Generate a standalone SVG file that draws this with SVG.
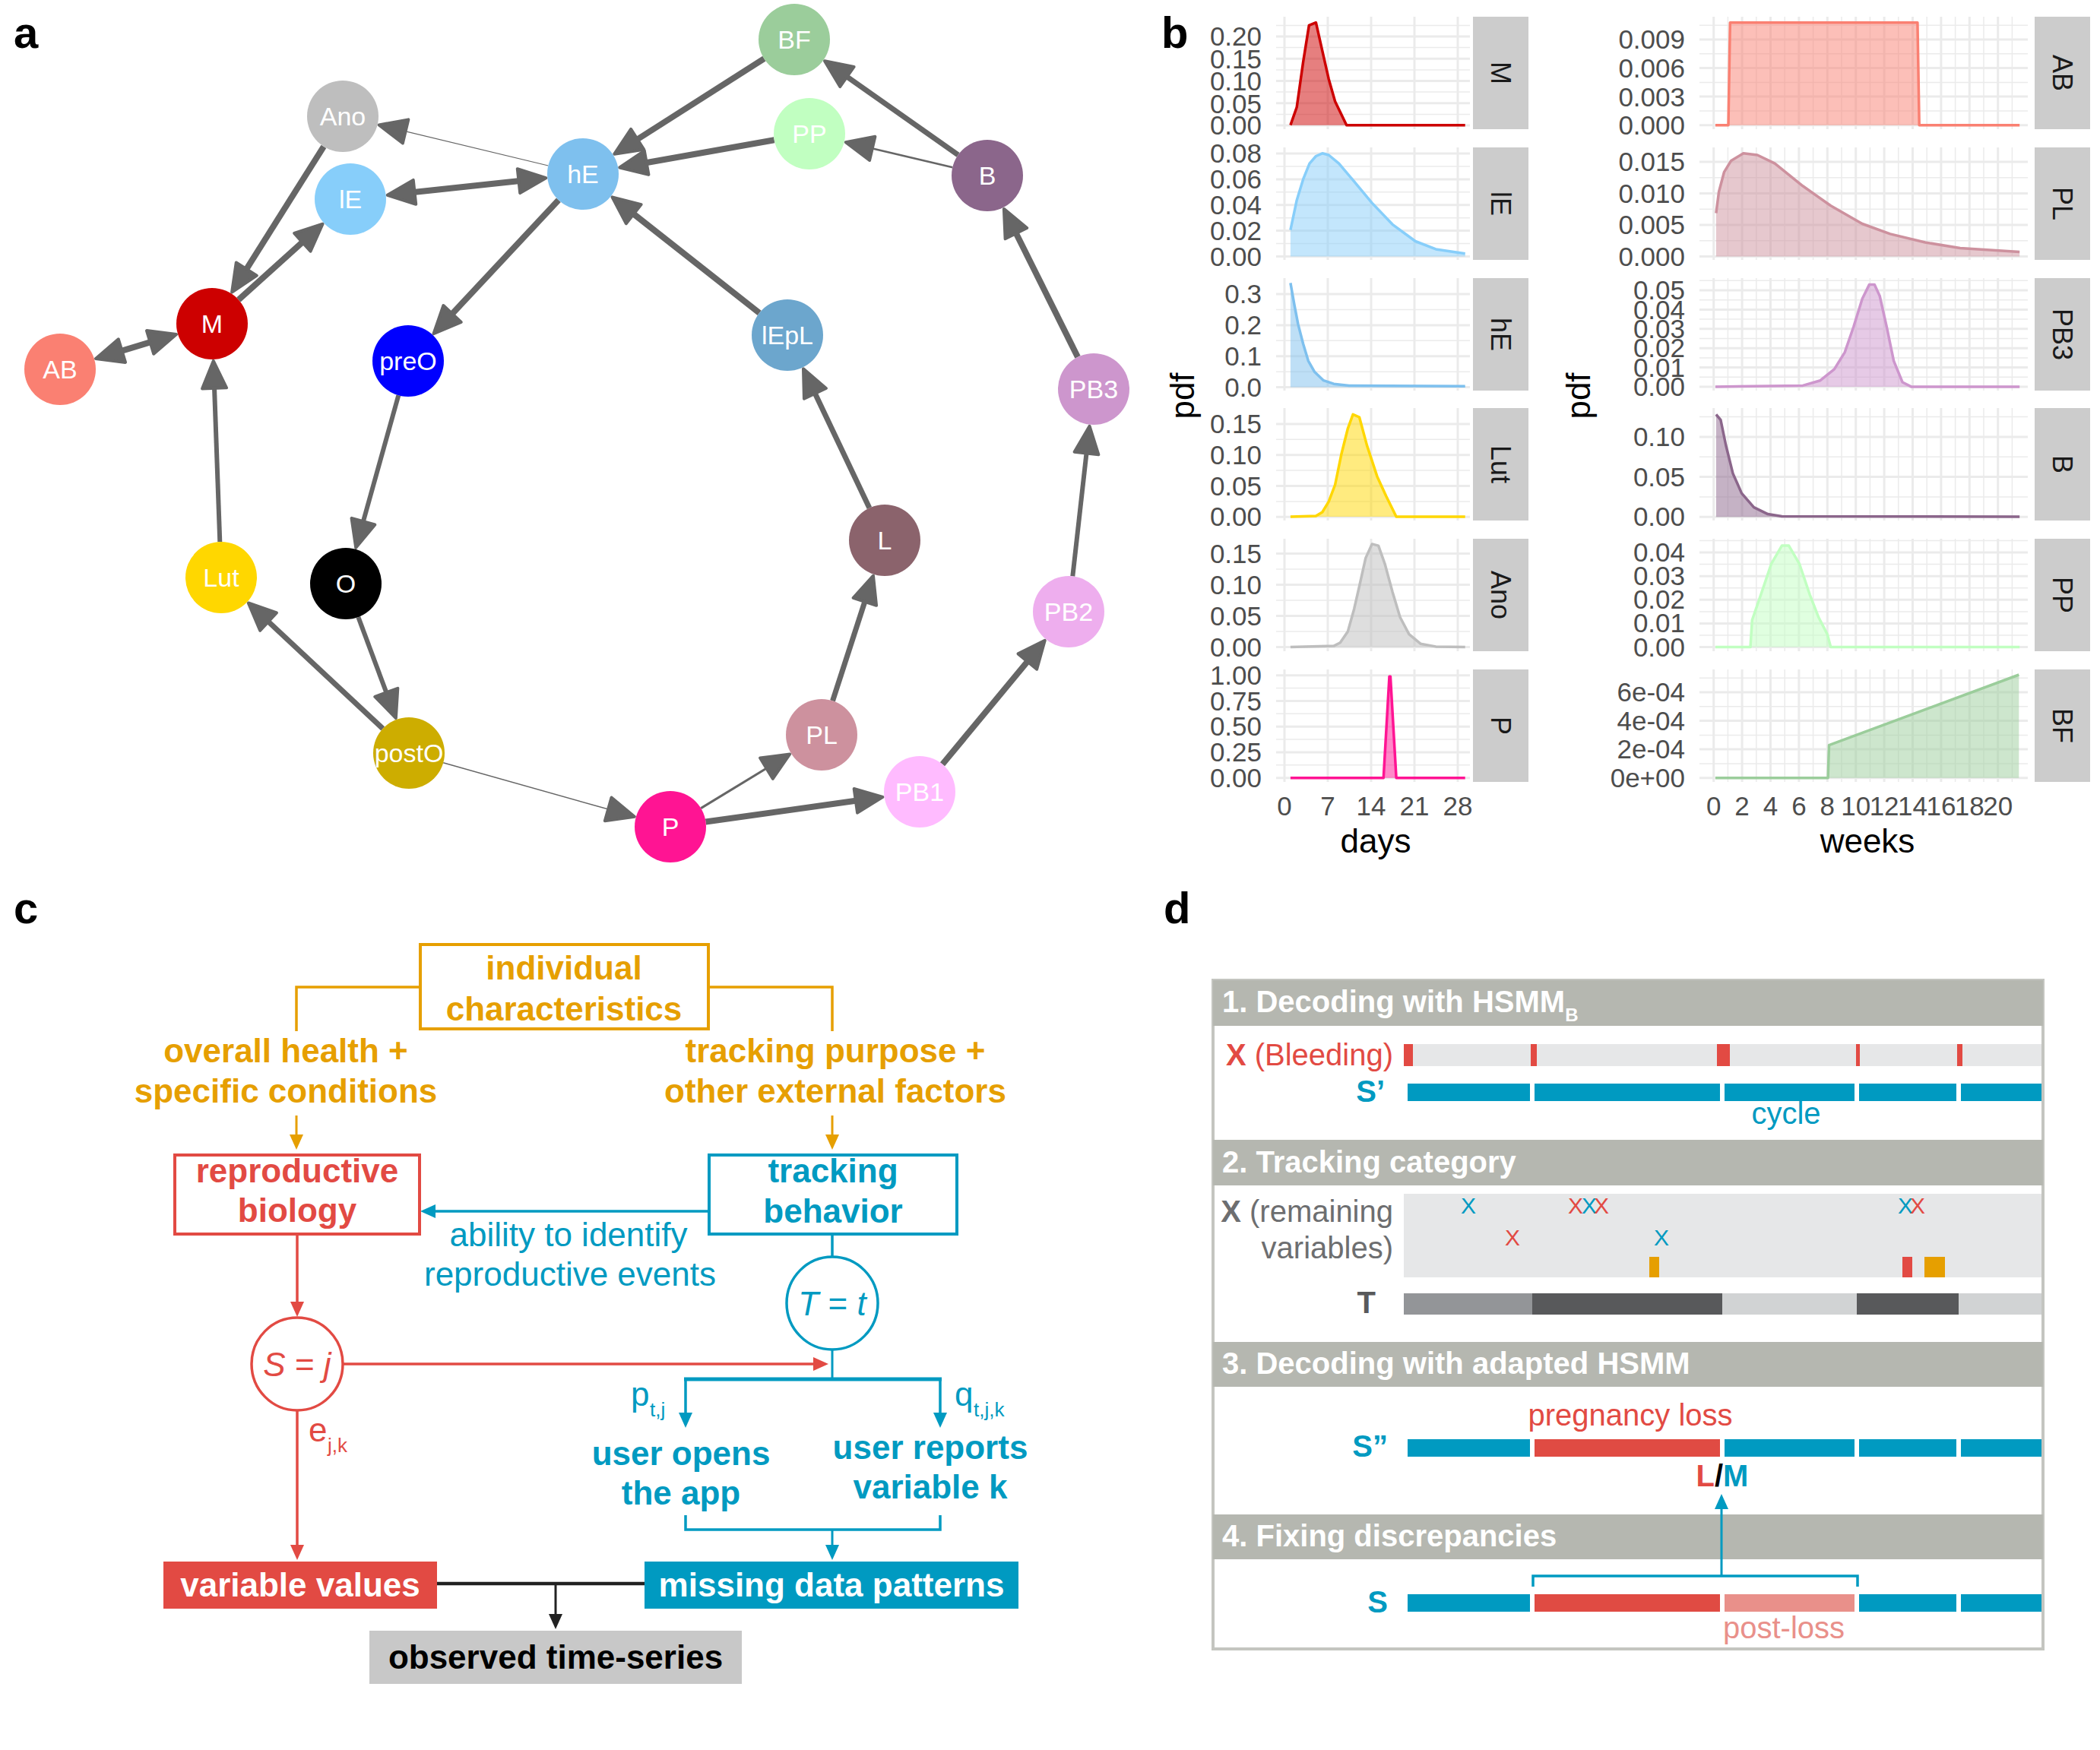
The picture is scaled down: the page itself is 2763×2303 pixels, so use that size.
<svg xmlns="http://www.w3.org/2000/svg" xmlns:xlink="http://www.w3.org/1999/xlink" width="2763" height="2303" viewBox="0 0 2763 2303">
<style>
text { font-family: "Liberation Sans", Arial, Helvetica, sans-serif; }
.pl { font-size: 58px; font-weight: bold; fill: #000; }
.nl { font-size: 34px; fill: #fff; text-anchor: middle; }
.ed { fill: none; stroke: #666; }
.gM { stroke: #EBEBEB; stroke-width: 3; }
.gm { stroke: #EBEBEB; stroke-width: 1.5; }
.tk { font-size: 35px; fill: #4D4D4D; text-anchor: end; }
.tx { font-size: 35px; fill: #4D4D4D; text-anchor: middle; }
.at { font-size: 44px; fill: #000; text-anchor: middle; }
.st { fill: #CCCCCC; }
.stt { font-size: 36px; fill: #1A1A1A; text-anchor: middle; }
.cv { fill: none; stroke-width: 3.5; stroke-linejoin: round; }
.cf { opacity: 0.5; }
.cb { font-size: 44px; font-weight: bold; text-anchor: middle; }
.cr { font-size: 44px; text-anchor: middle; }
.hd { fill: #B5B7B0; }
.ht { font-size: 40px; font-weight: bold; fill: #fff; }
.rl { font-size: 40px; text-anchor: end; }
.xm { font-size: 30px; text-anchor: middle; }
.blu { fill: #009AC1; }
</style>
<defs>
<marker id="ah" viewBox="0 0 40 36" refX="20" refY="18" markerWidth="40" markerHeight="36" markerUnits="userSpaceOnUse" orient="auto-start-reverse" overflow="visible">
<path d="M2,2 L38,18 L2,34 Z" fill="#666" stroke="#666" stroke-width="4" stroke-linejoin="round"/>
</marker>
<marker id="aO" viewBox="0 0 20 18" refX="12" refY="9" markerWidth="20" markerHeight="18" markerUnits="userSpaceOnUse" orient="auto"><path d="M0,0 L20,9 L0,18 Z" fill="#E69F00"/></marker>
<marker id="aR" viewBox="0 0 20 18" refX="12" refY="9" markerWidth="20" markerHeight="18" markerUnits="userSpaceOnUse" orient="auto"><path d="M0,0 L20,9 L0,18 Z" fill="#E24A43"/></marker>
<marker id="aB" viewBox="0 0 20 18" refX="12" refY="9" markerWidth="20" markerHeight="18" markerUnits="userSpaceOnUse" orient="auto"><path d="M0,0 L20,9 L0,18 Z" fill="#009AC1"/></marker>
<marker id="aK" viewBox="0 0 20 18" refX="12" refY="9" markerWidth="20" markerHeight="18" markerUnits="userSpaceOnUse" orient="auto"><path d="M0,0 L20,9 L0,18 Z" fill="#222"/></marker>
<g id="vgL">
<line class="gM" x1="1690" y1="0" x2="1690" y2="148"/><line class="gM" x1="1747" y1="0" x2="1747" y2="148"/><line class="gM" x1="1804" y1="0" x2="1804" y2="148"/><line class="gM" x1="1861" y1="0" x2="1861" y2="148"/><line class="gM" x1="1918" y1="0" x2="1918" y2="148"/>
</g>
<g id="vgR">
<line class="gM" x1="2254.7" y1="0" x2="2254.7" y2="148"/><line class="gm" x1="2273.4" y1="0" x2="2273.4" y2="148"/>
<line class="gM" x1="2292.1" y1="0" x2="2292.1" y2="148"/><line class="gm" x1="2310.8" y1="0" x2="2310.8" y2="148"/>
<line class="gM" x1="2329.5" y1="0" x2="2329.5" y2="148"/><line class="gm" x1="2348.2" y1="0" x2="2348.2" y2="148"/>
<line class="gM" x1="2366.9" y1="0" x2="2366.9" y2="148"/><line class="gm" x1="2385.6" y1="0" x2="2385.6" y2="148"/>
<line class="gM" x1="2404.3" y1="0" x2="2404.3" y2="148"/><line class="gm" x1="2423" y1="0" x2="2423" y2="148"/>
<line class="gM" x1="2441.7" y1="0" x2="2441.7" y2="148"/><line class="gm" x1="2460.4" y1="0" x2="2460.4" y2="148"/>
<line class="gM" x1="2479.1" y1="0" x2="2479.1" y2="148"/><line class="gm" x1="2497.8" y1="0" x2="2497.8" y2="148"/>
<line class="gM" x1="2516.5" y1="0" x2="2516.5" y2="148"/><line class="gm" x1="2535.2" y1="0" x2="2535.2" y2="148"/>
<line class="gM" x1="2553.9" y1="0" x2="2553.9" y2="148"/><line class="gm" x1="2572.6" y1="0" x2="2572.6" y2="148"/>
<line class="gM" x1="2591.3" y1="0" x2="2591.3" y2="148"/><line class="gm" x1="2610" y1="0" x2="2610" y2="148"/>
<line class="gM" x1="2628.7" y1="0" x2="2628.7" y2="148"/><line class="gm" x1="2647.4" y1="0" x2="2647.4" y2="148"/>
</g>
</defs>
<rect width="2763" height="2303" fill="#fff"/>

<!-- ===== Panel a ===== -->
<text class="pl" x="18" y="63">a</text>
<g id="connectors-a">
<path class="ed" stroke-width="8" d="M425.9,192.8 L314.7,369.3" marker-end="url(#ah)"/>
<path class="ed" stroke-width="8" d="M313.9,394.5 L411.2,306.8" marker-end="url(#ah)"/>
<path class="ed" stroke-width="8" d="M143.2,466.8 L214.8,445.2" marker-start="url(#ah)" marker-end="url(#ah)"/>
<path class="ed" stroke-width="8" d="M527.6,254.8 L700.4,236.2" marker-start="url(#ah)" marker-end="url(#ah)"/>
<path class="ed" stroke-width="1.2" stroke="#CFCFCF" d="M721.3,218 L516.1,168.7" marker-end="url(#ah)"/>
<path class="ed" stroke-width="8" d="M734.9,263.3 L582.8,426.1" marker-end="url(#ah)"/>
<path class="ed" stroke-width="8" d="M1005.4,77.2 L823.5,193" marker-end="url(#ah)"/>
<path class="ed" stroke-width="8" d="M1018.7,184.2 L832.9,217.3" marker-end="url(#ah)"/>
<path class="ed" stroke-width="7" d="M1260.6,203.9 L1099.7,90.6" marker-end="url(#ah)"/>
<path class="ed" stroke-width="2.5" d="M1253.3,220.2 L1130.2,191.3" marker-end="url(#ah)"/>
<path class="ed" stroke-width="8" d="M999.1,411.9 L819.6,270.5" marker-end="url(#ah)"/>
<path class="ed" stroke-width="8" d="M1418,469.9 L1328.9,291" marker-end="url(#ah)"/>
<path class="ed" stroke-width="7" d="M1143.9,668.5 L1064.7,501.6" marker-end="url(#ah)"/>
<path class="ed" stroke-width="7" d="M1095.5,922.3 L1143.4,774.7" marker-end="url(#ah)"/>
<path class="ed" stroke-width="3" d="M922.2,1063.6 L1023.8,1001.8" marker-end="url(#ah)"/>
<path class="ed" stroke-width="8" d="M928.5,1081.5 L1143.7,1051.3" marker-end="url(#ah)"/>
<path class="ed" stroke-width="8" d="M1240,1005.8 L1363.3,856.7" marker-end="url(#ah)"/>
<path class="ed" stroke-width="6" d="M1411.3,758.3 L1431.5,578.6" marker-end="url(#ah)"/>
<path class="ed" stroke-width="1.5" stroke="#777" d="M583.2,1003.8 L817.5,1069.8" marker-end="url(#ah)"/>
<path class="ed" stroke-width="7" d="M503.7,958.9 L339.9,805.8" marker-end="url(#ah)"/>
<path class="ed" stroke-width="6" d="M289.3,713 L281.4,492.9" marker-end="url(#ah)"/>
<path class="ed" stroke-width="6" d="M524.3,520.3 L473.1,703.5" marker-end="url(#ah)"/>
<path class="ed" stroke-width="6" d="M471.4,812.1 L514.6,928.2" marker-end="url(#ah)"/>
</g>
<g id="node-Ano"><circle cx="451" cy="153" r="47" fill="#BEBEBE"/><text class="nl" x="451" y="165">Ano</text></g>
<g id="node-IE"><circle cx="461" cy="262" r="47" fill="#87CEFA"/><text class="nl" x="461" y="274">lE</text></g>
<g id="node-hE"><circle cx="767" cy="229" r="47" fill="#7EC0EE"/><text class="nl" x="767" y="241">hE</text></g>
<g id="node-M"><circle cx="279" cy="426" r="47" fill="#CD0000"/><text class="nl" x="279" y="438">M</text></g>
<g id="node-AB"><circle cx="79" cy="486" r="47" fill="#FA8072"/><text class="nl" x="79" y="498">AB</text></g>
<g id="node-preO"><circle cx="537" cy="475" r="47" fill="#0000FF"/><text class="nl" x="537" y="487">preO</text></g>
<g id="node-BF"><circle cx="1045" cy="52" r="47" fill="#9BCD9B"/><text class="nl" x="1045" y="64">BF</text></g>
<g id="node-PP"><circle cx="1065" cy="176" r="47" fill="#C1FFC1"/><text class="nl" x="1065" y="188">PP</text></g>
<g id="node-B"><circle cx="1299" cy="231" r="47" fill="#8B668B"/><text class="nl" x="1299" y="243">B</text></g>
<g id="node-IEpL"><circle cx="1036" cy="441" r="47" fill="#6CA6CD"/><text class="nl" x="1036" y="453">lEpL</text></g>
<g id="node-PB3"><circle cx="1439" cy="512" r="47" fill="#CD96CD"/><text class="nl" x="1439" y="524">PB3</text></g>
<g id="node-Lut"><circle cx="291" cy="760" r="47" fill="#FFD700"/><text class="nl" x="291" y="772">Lut</text></g>
<g id="node-O"><circle cx="455" cy="768" r="47" fill="#000000"/><text class="nl" x="455" y="780">O</text></g>
<g id="node-postO"><circle cx="538" cy="991" r="47" fill="#CDAD00"/><text class="nl" x="538" y="1003">postO</text></g>
<g id="node-L"><circle cx="1164" cy="711" r="47" fill="#8B636C"/><text class="nl" x="1164" y="723">L</text></g>
<g id="node-PB2"><circle cx="1406" cy="805" r="47" fill="#EEAEEE"/><text class="nl" x="1406" y="817">PB2</text></g>
<g id="node-PL"><circle cx="1081" cy="967" r="47" fill="#CD919E"/><text class="nl" x="1081" y="979">PL</text></g>
<g id="node-PB1"><circle cx="1210" cy="1042" r="47" fill="#FFBBFF"/><text class="nl" x="1210" y="1054">PB1</text></g>
<g id="node-P"><circle cx="882" cy="1088" r="47" fill="#FF1493"/><text class="nl" x="882" y="1100">P</text></g>

<!-- ===== Panel b ===== -->
<text class="pl" x="1528" y="63">b</text>
<g id="panel-b-left">
<!-- grid -->
<use xlink:href="#vgL" href="#vgL" y="22"/><use xlink:href="#vgL" href="#vgL" y="194"/><use xlink:href="#vgL" href="#vgL" y="366"/>
<use xlink:href="#vgL" href="#vgL" y="537"/><use xlink:href="#vgL" href="#vgL" y="709"/><use xlink:href="#vgL" href="#vgL" y="881"/>
<g>
<line class="gM" x1="1679" x2="1934" y1="165" y2="165"/><line class="gM" x1="1679" x2="1934" y1="135.8" y2="135.8"/><line class="gM" x1="1679" x2="1934" y1="106.5" y2="106.5"/><line class="gM" x1="1679" x2="1934" y1="77.3" y2="77.3"/><line class="gM" x1="1679" x2="1934" y1="48" y2="48"/>
<line class="gm" x1="1679" x2="1934" y1="150.4" y2="150.4"/><line class="gm" x1="1679" x2="1934" y1="121.1" y2="121.1"/><line class="gm" x1="1679" x2="1934" y1="91.9" y2="91.9"/><line class="gm" x1="1679" x2="1934" y1="62.6" y2="62.6"/><line class="gm" x1="1679" x2="1934" y1="33.4" y2="33.4"/>
<line class="gM" x1="1679" x2="1934" y1="337.5" y2="337.5"/><line class="gM" x1="1679" x2="1934" y1="303.6" y2="303.6"/><line class="gM" x1="1679" x2="1934" y1="269.8" y2="269.8"/><line class="gM" x1="1679" x2="1934" y1="235.9" y2="235.9"/><line class="gM" x1="1679" x2="1934" y1="202" y2="202"/>
<line class="gm" x1="1679" x2="1934" y1="320.6" y2="320.6"/><line class="gm" x1="1679" x2="1934" y1="286.7" y2="286.7"/><line class="gm" x1="1679" x2="1934" y1="252.8" y2="252.8"/><line class="gm" x1="1679" x2="1934" y1="219" y2="219"/>
<line class="gM" x1="1679" x2="1934" y1="509.6" y2="509.6"/><line class="gM" x1="1679" x2="1934" y1="468.7" y2="468.7"/><line class="gM" x1="1679" x2="1934" y1="427.9" y2="427.9"/><line class="gM" x1="1679" x2="1934" y1="387" y2="387"/>
<line class="gm" x1="1679" x2="1934" y1="489.2" y2="489.2"/><line class="gm" x1="1679" x2="1934" y1="448.3" y2="448.3"/><line class="gm" x1="1679" x2="1934" y1="407.4" y2="407.4"/>
<line class="gM" x1="1679" x2="1934" y1="680.3" y2="680.3"/><line class="gM" x1="1679" x2="1934" y1="639.5" y2="639.5"/><line class="gM" x1="1679" x2="1934" y1="598.7" y2="598.7"/><line class="gM" x1="1679" x2="1934" y1="557.9" y2="557.9"/>
<line class="gm" x1="1679" x2="1934" y1="659.9" y2="659.9"/><line class="gm" x1="1679" x2="1934" y1="619.1" y2="619.1"/><line class="gm" x1="1679" x2="1934" y1="578.3" y2="578.3"/>
<line class="gM" x1="1679" x2="1934" y1="851.6" y2="851.6"/><line class="gM" x1="1679" x2="1934" y1="810.6" y2="810.6"/><line class="gM" x1="1679" x2="1934" y1="769.5" y2="769.5"/><line class="gM" x1="1679" x2="1934" y1="728.5" y2="728.5"/>
<line class="gm" x1="1679" x2="1934" y1="831.1" y2="831.1"/><line class="gm" x1="1679" x2="1934" y1="790" y2="790"/><line class="gm" x1="1679" x2="1934" y1="749" y2="749"/>
<line class="gM" x1="1679" x2="1934" y1="1023.7" y2="1023.7"/><line class="gM" x1="1679" x2="1934" y1="990" y2="990"/><line class="gM" x1="1679" x2="1934" y1="956.2" y2="956.2"/><line class="gM" x1="1679" x2="1934" y1="922.5" y2="922.5"/><line class="gM" x1="1679" x2="1934" y1="888.7" y2="888.7"/>
<line class="gm" x1="1679" x2="1934" y1="1006.8" y2="1006.8"/><line class="gm" x1="1679" x2="1934" y1="973.1" y2="973.1"/><line class="gm" x1="1679" x2="1934" y1="939.3" y2="939.3"/><line class="gm" x1="1679" x2="1934" y1="905.6" y2="905.6"/>
</g>
<!-- tick labels -->
<text class="tk" x="1660" y="60">0.20</text><text class="tk" x="1660" y="90">0.15</text><text class="tk" x="1660" y="119">0.10</text><text class="tk" x="1660" y="149">0.05</text><text class="tk" x="1660" y="177">0.00</text>
<text class="tk" x="1660" y="214">0.08</text><text class="tk" x="1660" y="248">0.06</text><text class="tk" x="1660" y="282">0.04</text><text class="tk" x="1660" y="316">0.02</text><text class="tk" x="1660" y="350">0.00</text>
<text class="tk" x="1660" y="399">0.3</text><text class="tk" x="1660" y="440">0.2</text><text class="tk" x="1660" y="481">0.1</text><text class="tk" x="1660" y="522">0.0</text>
<text class="tk" x="1660" y="570">0.15</text><text class="tk" x="1660" y="611">0.10</text><text class="tk" x="1660" y="652">0.05</text><text class="tk" x="1660" y="692">0.00</text>
<text class="tk" x="1660" y="741">0.15</text><text class="tk" x="1660" y="782">0.10</text><text class="tk" x="1660" y="823">0.05</text><text class="tk" x="1660" y="864">0.00</text>
<text class="tk" x="1660" y="901">1.00</text><text class="tk" x="1660" y="935">0.75</text><text class="tk" x="1660" y="968">0.50</text><text class="tk" x="1660" y="1002">0.25</text><text class="tk" x="1660" y="1036">0.00</text>
<!-- curves -->
<path class="cf" fill="#CD0000" d="M1697.9,164.7 L1706.2,141 L1714.6,81.6 L1722.3,33.4 L1731.4,29.7 L1739.8,66.8 L1748.2,103.9 L1756.6,133.5 L1771.7,164.7 Z"/>
<path class="cv" stroke="#CD0000" d="M1697.9,164.7 L1706.2,141 L1714.6,81.6 L1722.3,33.4 L1731.4,29.7 L1739.8,66.8 L1748.2,103.9 L1756.6,133.5 L1771.7,164.7 L1927.7,164.7"/>
<path class="cf" fill="#87CEFA" d="M1697.9,302.7 L1706.2,263.4 L1714.6,235.9 L1723,215.1 L1731.4,205.5 L1739.8,201.8 L1748.2,204 L1761.6,215.1 L1781.7,238.9 L1805.2,267.1 L1832.1,295.3 L1862.3,317.5 L1889.1,327.9 L1927.7,333.8 L1927.7,337.5 L1697.9,337.5 Z"/>
<path class="cv" stroke="#87CEFA" d="M1697.9,302.7 L1706.2,263.4 L1714.6,235.9 L1723,215.1 L1731.4,205.5 L1739.8,201.8 L1748.2,204 L1761.6,215.1 L1781.7,238.9 L1805.2,267.1 L1832.1,295.3 L1862.3,317.5 L1889.1,327.9 L1927.7,333.8"/>
<path class="cf" fill="#7EC0EE" d="M1697.9,372.4 L1702.9,400.6 L1707.9,426.6 L1714.6,452.5 L1721.3,474.8 L1729.7,489.6 L1741.4,500.7 L1754.9,505.2 L1775,507.4 L1927.7,508.2 L1927.7,509.6 L1697.9,509.6 Z"/>
<path class="cv" stroke="#7EC0EE" d="M1697.9,372.4 L1702.9,400.6 L1707.9,426.6 L1714.6,452.5 L1721.3,474.8 L1729.7,489.6 L1741.4,500.7 L1754.9,505.2 L1775,507.4 L1927.7,508.2"/>
<path class="cf" fill="#FFD700" d="M1731.4,680 L1739.8,674 L1748.2,660.2 L1756.6,638 L1765,597.2 L1773.4,563.8 L1780.1,545.3 L1788.5,549 L1798.5,586.1 L1811.9,626.9 L1823.7,652.8 L1837.1,680 Z"/>
<path class="cv" stroke="#FFD700" d="M1697.9,680 L1731.4,679 L1739.8,674 L1748.2,660.2 L1756.6,638 L1765,597.2 L1773.4,563.8 L1780.1,545.3 L1788.5,549 L1798.5,586.1 L1811.9,626.9 L1823.7,652.8 L1837.1,680 L1927.7,680"/>
<path class="cf" fill="#BEBEBE" d="M1697.9,851.6 L1754.9,850.1 L1763.3,845.7 L1773.4,830.9 L1781.7,801.2 L1788.5,771.5 L1796.8,734.4 L1805.2,715.9 L1813.6,718.1 L1822,741.8 L1832.1,778.9 L1842.1,812.3 L1853.9,834.6 L1869,847.2 L1889.1,850.9 L1927.7,851.6 Z"/>
<path class="cv" stroke="#BEBEBE" d="M1697.9,851.6 L1754.9,850.1 L1763.3,845.7 L1773.4,830.9 L1781.7,801.2 L1788.5,771.5 L1796.8,734.4 L1805.2,715.9 L1813.6,718.1 L1822,741.8 L1832.1,778.9 L1842.1,812.3 L1853.9,834.6 L1869,847.2 L1889.1,850.9 L1927.7,851.6"/>
<path class="cf" fill="#FF1493" d="M1820.3,1023.7 L1828,890.2 L1829.4,890.2 L1837.1,1023.7 Z"/>
<path class="cv" stroke="#FF1493" d="M1697.9,1023.7 L1820.3,1023.7 L1828,890.2 L1829.4,890.2 L1837.1,1023.7 L1927.7,1023.7"/>
<!-- strips -->
<rect class="st" x="1938" y="22" width="73" height="148"/><text class="stt" transform="rotate(90 1975 96)" x="1975" y="96" dy="0.35em">M</text>
<rect class="st" x="1938" y="194" width="73" height="148"/><text class="stt" transform="rotate(90 1975 268)" x="1975" y="268" dy="0.35em">lE</text>
<rect class="st" x="1938" y="366" width="73" height="148"/><text class="stt" transform="rotate(90 1975 440)" x="1975" y="440" dy="0.35em">hE</text>
<rect class="st" x="1938" y="537" width="73" height="148"/><text class="stt" transform="rotate(90 1975 611)" x="1975" y="611" dy="0.35em">Lut</text>
<rect class="st" x="1938" y="709" width="73" height="148"/><text class="stt" transform="rotate(90 1975 783)" x="1975" y="783" dy="0.35em">Ano</text>
<rect class="st" x="1938" y="881" width="73" height="148"/><text class="stt" transform="rotate(90 1975 955)" x="1975" y="955" dy="0.35em">P</text>
<!-- axes -->
<text class="tx" x="1690" y="1073">0</text><text class="tx" x="1747" y="1073">7</text><text class="tx" x="1804" y="1073">14</text><text class="tx" x="1861" y="1073">21</text><text class="tx" x="1918" y="1073">28</text>
<text class="at" x="1810" y="1122">days</text>
<text class="at" transform="rotate(-90 1556 521)" x="1556" y="521" dy="0.35em">pdf</text>
</g>

<g id="panel-b-right">
<use xlink:href="#vgR" href="#vgR" y="22"/><use xlink:href="#vgR" href="#vgR" y="194"/><use xlink:href="#vgR" href="#vgR" y="366"/>
<use xlink:href="#vgR" href="#vgR" y="537"/><use xlink:href="#vgR" href="#vgR" y="709"/><use xlink:href="#vgR" href="#vgR" y="881"/>
<g>
<line class="gM" x1="2236" x2="2668" y1="164.7" y2="164.7"/><line class="gM" x1="2236" x2="2668" y1="127.1" y2="127.1"/><line class="gM" x1="2236" x2="2668" y1="89.6" y2="89.6"/><line class="gM" x1="2236" x2="2668" y1="52" y2="52"/>
<line class="gm" x1="2236" x2="2668" y1="145.9" y2="145.9"/><line class="gm" x1="2236" x2="2668" y1="108.4" y2="108.4"/><line class="gm" x1="2236" x2="2668" y1="70.8" y2="70.8"/><line class="gm" x1="2236" x2="2668" y1="33.2" y2="33.2"/>
<line class="gM" x1="2236" x2="2668" y1="337.5" y2="337.5"/><line class="gM" x1="2236" x2="2668" y1="296" y2="296"/><line class="gM" x1="2236" x2="2668" y1="254.4" y2="254.4"/><line class="gM" x1="2236" x2="2668" y1="212.9" y2="212.9"/>
<line class="gm" x1="2236" x2="2668" y1="316.7" y2="316.7"/><line class="gm" x1="2236" x2="2668" y1="275.2" y2="275.2"/><line class="gm" x1="2236" x2="2668" y1="233.7" y2="233.7"/>
<line class="gM" x1="2236" x2="2668" y1="509" y2="509"/><line class="gM" x1="2236" x2="2668" y1="483.6" y2="483.6"/><line class="gM" x1="2236" x2="2668" y1="458.2" y2="458.2"/><line class="gM" x1="2236" x2="2668" y1="432.8" y2="432.8"/><line class="gM" x1="2236" x2="2668" y1="407.4" y2="407.4"/><line class="gM" x1="2236" x2="2668" y1="382" y2="382"/>
<line class="gm" x1="2236" x2="2668" y1="496.3" y2="496.3"/><line class="gm" x1="2236" x2="2668" y1="470.9" y2="470.9"/><line class="gm" x1="2236" x2="2668" y1="445.5" y2="445.5"/><line class="gm" x1="2236" x2="2668" y1="420.1" y2="420.1"/><line class="gm" x1="2236" x2="2668" y1="394.7" y2="394.7"/><line class="gm" x1="2236" x2="2668" y1="369.3" y2="369.3"/>
<line class="gM" x1="2236" x2="2668" y1="680.3" y2="680.3"/><line class="gM" x1="2236" x2="2668" y1="627.6" y2="627.6"/><line class="gM" x1="2236" x2="2668" y1="574.9" y2="574.9"/>
<line class="gm" x1="2236" x2="2668" y1="654" y2="654"/><line class="gm" x1="2236" x2="2668" y1="601.3" y2="601.3"/><line class="gm" x1="2236" x2="2668" y1="548.6" y2="548.6"/>
<line class="gM" x1="2236" x2="2668" y1="851.6" y2="851.6"/><line class="gM" x1="2236" x2="2668" y1="820.5" y2="820.5"/><line class="gM" x1="2236" x2="2668" y1="789.3" y2="789.3"/><line class="gM" x1="2236" x2="2668" y1="758.2" y2="758.2"/><line class="gM" x1="2236" x2="2668" y1="727" y2="727"/>
<line class="gm" x1="2236" x2="2668" y1="836" y2="836"/><line class="gm" x1="2236" x2="2668" y1="804.9" y2="804.9"/><line class="gm" x1="2236" x2="2668" y1="773.7" y2="773.7"/><line class="gm" x1="2236" x2="2668" y1="742.6" y2="742.6"/><line class="gm" x1="2236" x2="2668" y1="711.4" y2="711.4"/>
<line class="gM" x1="2236" x2="2668" y1="1023.7" y2="1023.7"/><line class="gM" x1="2236" x2="2668" y1="986.1" y2="986.1"/><line class="gM" x1="2236" x2="2668" y1="948.6" y2="948.6"/><line class="gM" x1="2236" x2="2668" y1="911" y2="911"/>
<line class="gm" x1="2236" x2="2668" y1="1004.9" y2="1004.9"/><line class="gm" x1="2236" x2="2668" y1="967.4" y2="967.4"/><line class="gm" x1="2236" x2="2668" y1="929.8" y2="929.8"/><line class="gm" x1="2236" x2="2668" y1="892.2" y2="892.2"/>
</g>
<text class="tk" x="2217" y="64">0.009</text><text class="tk" x="2217" y="102">0.006</text><text class="tk" x="2217" y="140">0.003</text><text class="tk" x="2217" y="177">0.000</text>
<text class="tk" x="2217" y="225">0.015</text><text class="tk" x="2217" y="267">0.010</text><text class="tk" x="2217" y="308">0.005</text><text class="tk" x="2217" y="350">0.000</text>
<text class="tk" x="2217" y="394">0.05</text><text class="tk" x="2217" y="420">0.04</text><text class="tk" x="2217" y="445">0.03</text><text class="tk" x="2217" y="470">0.02</text><text class="tk" x="2217" y="496">0.01</text><text class="tk" x="2217" y="521">0.00</text>
<text class="tk" x="2217" y="587">0.10</text><text class="tk" x="2217" y="640">0.05</text><text class="tk" x="2217" y="692">0.00</text>
<text class="tk" x="2217" y="739">0.04</text><text class="tk" x="2217" y="770">0.03</text><text class="tk" x="2217" y="801">0.02</text><text class="tk" x="2217" y="832">0.01</text><text class="tk" x="2217" y="864">0.00</text>
<text class="tk" x="2217" y="923">6e-04</text><text class="tk" x="2217" y="961">4e-04</text><text class="tk" x="2217" y="998">2e-04</text><text class="tk" x="2217" y="1036">0e+00</text>
<path class="cf" fill="#FA8072" d="M2274,164.7 L2276.3,29.7 L2522.9,29.7 L2525.2,164.7 Z"/>
<path class="cv" stroke="#FA8072" d="M2257,164.7 L2274,164.7 L2276.3,29.7 L2522.9,29.7 L2525.2,164.7 L2657.2,164.7"/>
<path class="cf" fill="#CD919E" d="M2257.9,280.4 L2261.6,252.2 L2268.5,226.3 L2277.7,211.4 L2293.8,201.8 L2312.2,204 L2335.2,215.1 L2372,244.8 L2408.8,270.8 L2450.2,294.5 L2487,307.9 L2533,319 L2579,326.4 L2657.2,331.6 L2657.2,337.5 L2257.9,337.5 Z"/>
<path class="cv" stroke="#CD919E" d="M2257.9,280.4 L2261.6,252.2 L2268.5,226.3 L2277.7,211.4 L2293.8,201.8 L2312.2,204 L2335.2,215.1 L2372,244.8 L2408.8,270.8 L2450.2,294.5 L2487,307.9 L2533,319 L2579,326.4 L2657.2,331.6"/>
<path class="cf" fill="#CD96CD" d="M2257,508.9 L2372,507.4 L2395,500.7 L2413.4,485.9 L2427.2,463.6 L2438.7,430.3 L2450.2,393.2 L2459.4,374.6 L2466.3,374.6 L2473.2,389.5 L2482.4,430.3 L2491.6,474.8 L2503.1,503 L2514.6,508.9 Z"/>
<path class="cv" stroke="#CD96CD" d="M2257,508.9 L2372,507.4 L2395,500.7 L2413.4,485.9 L2427.2,463.6 L2438.7,430.3 L2450.2,393.2 L2459.4,374.6 L2466.3,374.6 L2473.2,389.5 L2482.4,430.3 L2491.6,474.8 L2503.1,503 L2514.6,508.9 L2657.2,508.9"/>
<path class="cf" fill="#8B668B" d="M2257.9,545.3 L2263.9,552.7 L2270.8,586 L2280,623.1 L2291.5,649.1 L2307.6,667.7 L2326,676.6 L2344.4,679 L2344.4,680.3 L2257.9,680.3 Z"/>
<path class="cv" stroke="#8B668B" d="M2257.9,545.3 L2263.9,552.7 L2270.8,586 L2280,623.1 L2291.5,649.1 L2307.6,667.7 L2326,676.6 L2344.4,679.5 L2657.2,680"/>
<path class="cf" fill="#C1FFC1" d="M2303,851.6 L2305.3,816 L2316.8,782.6 L2330.6,741.8 L2344.4,718.1 L2353.6,718.1 L2367.4,741.8 L2381.2,782.6 L2392.7,812.3 L2404.2,834.6 L2408.8,851.6 Z"/>
<path class="cv" stroke="#C1FFC1" d="M2257,851.6 L2303,851.6 L2305.3,816 L2316.8,782.6 L2330.6,741.8 L2344.4,718.1 L2353.6,718.1 L2367.4,741.8 L2381.2,782.6 L2392.7,812.3 L2404.2,834.6 L2408.8,851.6 L2657.2,851.6"/>
<path class="cf" fill="#9BCD9B" d="M2405.1,1023.7 L2406.5,980.7 L2656.3,888 L2656.3,1023.7 Z"/>
<path class="cv" stroke="#9BCD9B" d="M2257,1023.7 L2405.1,1023.7 L2406.5,980.7 L2656.3,888"/>
<rect class="st" x="2677" y="22" width="73" height="148"/><text class="stt" transform="rotate(90 2714 96)" x="2714" y="96" dy="0.35em">AB</text>
<rect class="st" x="2677" y="194" width="73" height="148"/><text class="stt" transform="rotate(90 2714 268)" x="2714" y="268" dy="0.35em">PL</text>
<rect class="st" x="2677" y="366" width="73" height="148"/><text class="stt" transform="rotate(90 2714 440)" x="2714" y="440" dy="0.35em">PB3</text>
<rect class="st" x="2677" y="537" width="73" height="148"/><text class="stt" transform="rotate(90 2714 611)" x="2714" y="611" dy="0.35em">B</text>
<rect class="st" x="2677" y="709" width="73" height="148"/><text class="stt" transform="rotate(90 2714 783)" x="2714" y="783" dy="0.35em">PP</text>
<rect class="st" x="2677" y="881" width="73" height="148"/><text class="stt" transform="rotate(90 2714 955)" x="2714" y="955" dy="0.35em">BF</text>
<text class="tx" x="2254.7" y="1073">0</text><text class="tx" x="2292.1" y="1073">2</text><text class="tx" x="2329.5" y="1073">4</text><text class="tx" x="2366.9" y="1073">6</text><text class="tx" x="2404.3" y="1073">8</text><text class="tx" x="2441.7" y="1073">10</text><text class="tx" x="2479.1" y="1073">12</text><text class="tx" x="2516.5" y="1073">14</text><text class="tx" x="2553.9" y="1073">16</text><text class="tx" x="2591.3" y="1073">18</text><text class="tx" x="2628.7" y="1073">20</text>
<text class="at" x="2457" y="1122">weeks</text>
<text class="at" transform="rotate(-90 2077 521)" x="2077" y="521" dy="0.35em">pdf</text>
</g>

<!-- ===== Panel c ===== -->
<text class="pl" x="18" y="1215">c</text>
<g id="connectors-c" fill="none">
<path d="M553,1299 H390 V1357" stroke="#E69F00" stroke-width="3.5"/>
<path d="M932,1299 H1095 V1357" stroke="#E69F00" stroke-width="3.5"/>
<path d="M390,1468 V1505" stroke="#E69F00" stroke-width="3" marker-end="url(#aO)"/>
<path d="M1095,1468 V1505" stroke="#E69F00" stroke-width="3" marker-end="url(#aO)"/>
<path d="M933,1594 H561" stroke="#009AC1" stroke-width="3.5" marker-end="url(#aB)"/>
<path d="M391,1624 V1725" stroke="#E24A43" stroke-width="3.5" marker-end="url(#aR)"/>
<path d="M1095,1624 V1654" stroke="#009AC1" stroke-width="3.5"/>
<path d="M451,1795 H1082" stroke="#E24A43" stroke-width="3.5" marker-end="url(#aR)"/>
<path d="M1095,1776 V1815" stroke="#009AC1" stroke-width="3"/>
<path d="M900,1815 H1239" stroke="#009AC1" stroke-width="5"/>
<path d="M902,1815 V1871" stroke="#009AC1" stroke-width="3.5" marker-end="url(#aB)"/>
<path d="M1237,1815 V1871" stroke="#009AC1" stroke-width="3.5" marker-end="url(#aB)"/>
<path d="M902,1994 V2013 H1237 V1994" stroke="#009AC1" stroke-width="3.5"/>
<path d="M1095,2013 V2045" stroke="#009AC1" stroke-width="3" marker-end="url(#aB)"/>
<path d="M391,1856 V2045" stroke="#E24A43" stroke-width="3.5" marker-end="url(#aR)"/>
<path d="M575,2084 H848" stroke="#222" stroke-width="4.5"/>
<path d="M731,2084 V2136" stroke="#222" stroke-width="3" marker-end="url(#aK)"/>
</g>
<g id="node-individual">
<rect x="553" y="1243" width="379" height="111" fill="none" stroke="#E69F00" stroke-width="4"/>
<text class="cb" fill="#E69F00" x="742" y="1289">individual</text>
<text class="cb" fill="#E69F00" x="742" y="1343">characteristics</text>
</g>
<g id="label-health">
<text class="cb" fill="#E69F00" x="376" y="1398">overall health +</text>
<text class="cb" fill="#E69F00" x="376" y="1451">specific conditions</text>
</g>
<g id="label-purpose">
<text class="cb" fill="#E69F00" x="1099" y="1398">tracking purpose +</text>
<text class="cb" fill="#E69F00" x="1099" y="1451">other external factors</text>
</g>
<g id="node-reproductive">
<rect x="230" y="1520" width="322" height="104" fill="none" stroke="#E24A43" stroke-width="4"/>
<text class="cb" fill="#E24A43" x="391" y="1556">reproductive</text>
<text class="cb" fill="#E24A43" x="391" y="1608">biology</text>
</g>
<g id="node-tracking">
<rect x="933" y="1520" width="326" height="104" fill="none" stroke="#009AC1" stroke-width="4"/>
<text class="cb" fill="#009AC1" x="1096" y="1556">tracking</text>
<text class="cb" fill="#009AC1" x="1096" y="1609">behavior</text>
</g>
<g id="label-ability">
<text class="cr" fill="#009AC1" x="748" y="1640">ability to identify</text>
<text class="cr" fill="#009AC1" x="750" y="1692">reproductive events</text>
</g>
<g id="node-T">
<ellipse cx="1095" cy="1715" rx="60" ry="61" fill="#fff" stroke="#009AC1" stroke-width="3.5"/>
<text class="cr" fill="#009AC1" x="1095" y="1731"><tspan font-style="italic">T</tspan> = <tspan font-style="italic">t</tspan></text>
</g>
<g id="node-S">
<ellipse cx="391" cy="1795" rx="60" ry="61" fill="#fff" stroke="#E24A43" stroke-width="3.5"/>
<text class="cr" fill="#E24A43" x="391" y="1811"><tspan font-style="italic">S</tspan> = <tspan font-style="italic">j</tspan></text>
</g>
<g id="labels-probs">
<text font-size="44" fill="#009AC1" x="830" y="1850">p</text><text font-size="26" fill="#009AC1" x="855" y="1864">t,j</text>
<text font-size="44" fill="#009AC1" x="1256" y="1850">q</text><text font-size="26" fill="#009AC1" x="1281" y="1864">t,j,k</text>
<text font-size="44" fill="#E24A43" x="406" y="1897">e</text><text font-size="26" fill="#E24A43" x="431" y="1911">j,k</text>
</g>
<g id="label-opens">
<text class="cb" fill="#009AC1" x="896" y="1928">user opens</text>
<text class="cb" fill="#009AC1" x="896" y="1980">the app</text>
</g>
<g id="label-reports">
<text class="cb" fill="#009AC1" x="1224" y="1920">user reports</text>
<text class="cb" fill="#009AC1" x="1224" y="1972">variable k</text>
</g>
<g id="node-values">
<rect x="215" y="2055" width="360" height="62" fill="#E24A43"/>
<text class="cb" fill="#fff" x="395" y="2101">variable values</text>
</g>
<g id="node-missing">
<rect x="848" y="2055" width="492" height="62" fill="#009AC1"/>
<text class="cb" fill="#fff" x="1094" y="2101">missing data patterns</text>
</g>
<g id="node-observed">
<rect x="486" y="2146" width="490" height="70" fill="#C8C8C8"/>
<text class="cb" fill="#000" x="731" y="2196">observed time-series</text>
</g>

<!-- ===== Panel d ===== -->
<text class="pl" x="1531" y="1215">d</text>
<g id="panel-d">
<rect x="1596" y="1290" width="1092" height="880" fill="#fff" stroke="#C4C5C0" stroke-width="4"/>
<rect class="hd" x="1596" y="1290" width="1092" height="60"/>
<text class="ht" x="1608" y="1332">1. Decoding with HSMM<tspan font-size="24" dy="12">B</tspan></text>
<rect class="hd" x="1596" y="1500" width="1092" height="60"/>
<text class="ht" x="1608" y="1543">2. Tracking category</text>
<rect class="hd" x="1596" y="1766" width="1092" height="59"/>
<text class="ht" x="1608" y="1808">3. Decoding with adapted HSMM</text>
<rect class="hd" x="1596" y="1993" width="1092" height="59"/>
<text class="ht" x="1608" y="2035">4. Fixing discrepancies</text>

<g id="row-bleeding">
<text class="rl" x="1833" y="1402" fill="#E24A43"><tspan font-weight="bold">X</tspan> (Bleeding)</text>
<rect x="1847" y="1374" width="839" height="29" fill="#E6E7E8"/>
<rect x="1847" y="1374" width="12" height="29" fill="#E24A43"/>
<rect x="2014" y="1374" width="8" height="29" fill="#E24A43"/>
<rect x="2259" y="1374" width="17" height="29" fill="#E24A43"/>
<rect x="2442" y="1374" width="5" height="29" fill="#E24A43"/>
<rect x="2575" y="1374" width="7" height="29" fill="#E24A43"/>
</g>
<g id="row-S1">
<text class="rl blu" x="1822" y="1450" font-weight="bold">S’</text>
<rect class="blu" x="1852" y="1426" width="161" height="23"/>
<rect class="blu" x="2019" y="1426" width="244" height="23"/>
<rect class="blu" x="2269" y="1426" width="171" height="23"/>
<rect class="blu" x="2446" y="1426" width="128" height="23"/>
<rect class="blu" x="2580" y="1426" width="106" height="23"/>
<text font-size="40" fill="#009AC1" text-anchor="middle" x="2350" y="1479">cycle</text>
</g>
<g id="row-remaining">
<text class="rl" x="1833" y="1608" fill="#6D6E70"><tspan font-weight="bold">X</tspan> (remaining</text>
<text class="rl" x="1833" y="1656" fill="#6D6E70">variables)</text>
<rect x="1847" y="1571" width="839" height="110" fill="#E6E7E8"/>
<text class="xm" fill="#009AC1" x="1932" y="1597">X</text>
<text class="xm" fill="#E24A43" x="1990" y="1639">X</text>
<text class="xm" fill="#E24A43" x="2073" y="1597">X</text>
<text class="xm" fill="#009AC1" x="2091" y="1597">X</text>
<text class="xm" fill="#E24A43" x="2107" y="1597">X</text>
<text class="xm" fill="#009AC1" x="2186" y="1639">X</text>
<text class="xm" fill="#009AC1" x="2507" y="1597">X</text>
<text class="xm" fill="#E24A43" x="2523" y="1597">X</text>
<rect x="2170" y="1654" width="13" height="27" fill="#E69F00"/>
<rect x="2503" y="1654" width="13" height="27" fill="#E24A43"/>
<rect x="2532" y="1654" width="27" height="27" fill="#E69F00"/>
</g>
<g id="row-T">
<text class="rl" x="1810" y="1728" fill="#58595B" font-weight="bold">T</text>
<rect x="1847" y="1702" width="169" height="28" fill="#939598"/>
<rect x="2016" y="1702" width="250" height="28" fill="#58595B"/>
<rect x="2266" y="1702" width="177" height="28" fill="#D1D3D4"/>
<rect x="2443" y="1702" width="134" height="28" fill="#58595B"/>
<rect x="2577" y="1702" width="109" height="28" fill="#D1D3D4"/>
</g>
<g id="row-S2">
<text font-size="40" fill="#E24A43" text-anchor="middle" x="2145" y="1876">pregnancy loss</text>
<text class="rl blu" x="1826" y="1917" font-weight="bold">S”</text>
<rect class="blu" x="1852" y="1894" width="161" height="23"/>
<rect x="2019" y="1894" width="244" height="23" fill="#E04B43"/>
<rect class="blu" x="2269" y="1894" width="171" height="23"/>
<rect class="blu" x="2446" y="1894" width="128" height="23"/>
<rect class="blu" x="2580" y="1894" width="106" height="23"/>
<text font-size="40" font-weight="bold" text-anchor="middle" x="2266" y="1956"><tspan fill="#E24A43">L</tspan><tspan fill="#000">/</tspan><tspan fill="#009AC1">M</tspan></text>
</g>
<g id="row-S3">
<path d="M2017,2088 V2074 H2444 V2088" fill="none" stroke="#009AC1" stroke-width="3.5"/>
<path d="M2265,2074 V1974" fill="none" stroke="#009AC1" stroke-width="3" marker-end="url(#aB)"/>
<text class="rl blu" x="1826" y="2122" font-weight="bold">S</text>
<rect class="blu" x="1852" y="2098" width="161" height="23"/>
<rect x="2019" y="2098" width="244" height="23" fill="#E04B43"/>
<rect x="2269" y="2098" width="171" height="23" fill="#E9908A"/>
<rect class="blu" x="2446" y="2098" width="128" height="23"/>
<rect class="blu" x="2580" y="2098" width="106" height="23"/>
<text font-size="40" fill="#E9908A" text-anchor="middle" x="2347" y="2156">post-loss</text>
</g>
</g>
</svg>
